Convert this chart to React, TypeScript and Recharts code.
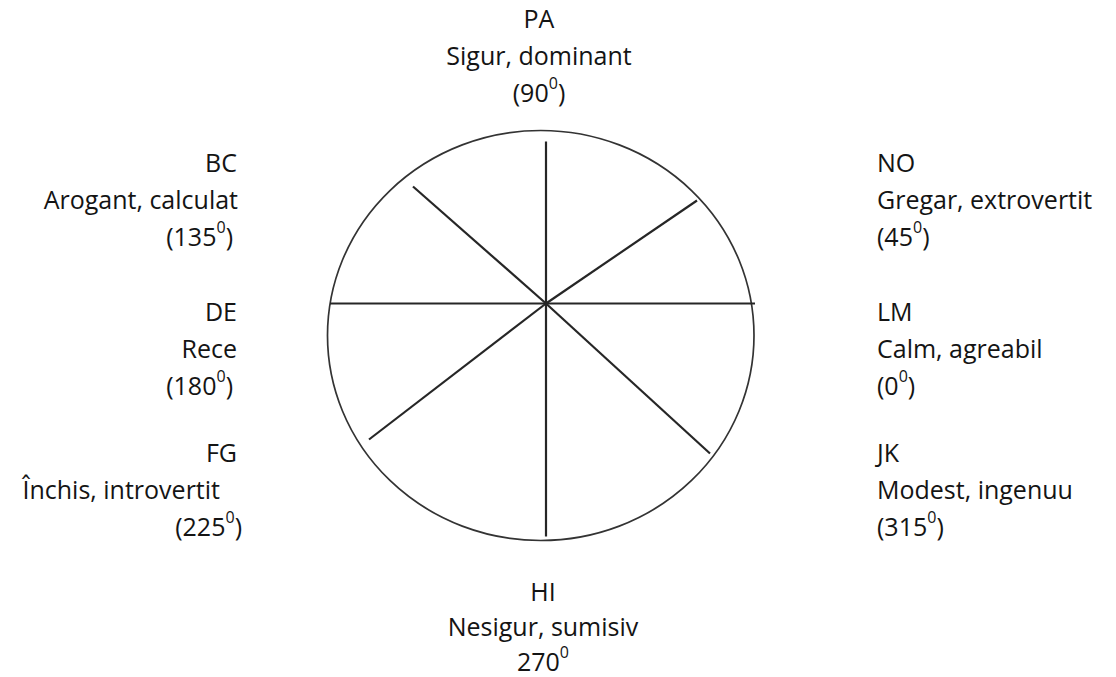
import React from 'react';
import { ComposedChart, XAxis, YAxis, ReferenceArea, ReferenceLine, ReferenceDot } from 'recharts';

// octants of the interpersonal circle, counter-clockwise from 0 degrees
const codes = ['LM', 'NO', 'PA', 'BC', 'DE', 'FG', 'HI', 'JK'];
const traits = [
  'Calm, agreabil',
  'Gregar, extrovertit',
  'Sigur, dominant',
  'Arogant, calculat',
  'Rece',
  'Închis, introvertit',
  'Nesigur, sumisiv',
  'Modest, ingenuu',
];
const degrees = [0, 45, 90, 135, 180, 225, 270, 315];
const degreeInBrackets = [true, true, true, true, true, true, false, true];

// spoke tips as drawn (hub = 0,0, y up)
const spokeTipX = [209, 151, 0, -133, -216, -177, 0, 164];
const spokeTipY = [0, 103, 162, 117, 0, -136, -233, -150];

// outline of the (slightly squashed) circle, same units
const ringX = [-218.5, 208];
const ringY = [-237, 173];

const W = 1116;
const H = 677;
const HUB_X = 546;
const HUB_Y = 303.5;
const LINE = 37;
const INK = '#141414';

const labelPos: Record<string, { x: number; y: number; anchor: 'start' | 'middle' | 'end'; shift?: number[]; gap?: number }> = {
  PA: { x: -7, y: 285.5, anchor: 'middle' },
  NO: { x: 331, y: 141.5, anchor: 'start' },
  LM: { x: 331, y: -7.5, anchor: 'start' },
  JK: { x: 331, y: -148.5, anchor: 'start' },
  HI: { x: -3, y: -287.5, anchor: 'middle', gap: 35 },
  BC: { x: -309, y: 141.5, anchor: 'end', shift: [0, 1, -4] },
  DE: { x: -309, y: -7.5, anchor: 'end', shift: [0, 0, -4] },
  FG: { x: -309, y: -148.5, anchor: 'end', shift: [0, -17, 5] },
};

function Ring(props: any) {
  const { x, y, width, height } = props;
  return (
    <ellipse
      cx={x + width / 2}
      cy={y + height / 2}
      rx={width / 2}
      ry={height / 2}
      fill="none"
      stroke="#333"
      strokeWidth={1.7}
    />
  );
}

function makeLabel(i: number) {
  const pos = labelPos[codes[i]];
  const shift = pos.shift ?? [0, 0, 0];
  const gap = pos.gap ?? LINE;
  return (props: any) => {
    const { cx, cy } = props;
    const common = {
      textAnchor: pos.anchor,
      dominantBaseline: 'central' as const,
      fontFamily: '"Open Sans", sans-serif',
      fontSize: 25,
      fill: INK,
    };
    return (
      <g>
        <text x={cx + shift[0]} y={cy} {...common}>
          {codes[i]}
        </text>
        <text x={cx + shift[1]} y={cy + gap} {...common}>
          {traits[i]}
        </text>
        <text x={cx + shift[2]} y={cy + gap * 2} {...common}>
          <tspan>{(degreeInBrackets[i] ? '(' : '') + degrees[i]}</tspan>
          <tspan fontSize={16} dy={-9}>
            0
          </tspan>
          {degreeInBrackets[i] && <tspan dy={9}>)</tspan>}
        </text>
      </g>
    );
  };
}

export default function App() {
  return (
    <div style={{ position: 'absolute', left: 0, top: 0, background: '#fff' }}>
      <ComposedChart width={W} height={H} data={[]} margin={{ top: 0, right: 0, bottom: 0, left: 0 }}>
        <XAxis type="number" dataKey="x" domain={[-HUB_X, W - HUB_X]} allowDataOverflow hide />
        <YAxis type="number" dataKey="y" domain={[-(H - HUB_Y), HUB_Y]} allowDataOverflow hide />
        <ReferenceArea
          x1={ringX[0]}
          x2={ringX[1]}
          y1={ringY[0]}
          y2={ringY[1]}
          ifOverflow="visible"
          shape={Ring}
        />
        {codes.map((c, i) => (
          <ReferenceLine
            key={'spoke-' + c}
            segment={[
              { x: 0, y: 0 },
              { x: spokeTipX[i], y: spokeTipY[i] },
            ]}
            ifOverflow="visible"
            stroke="#262626"
            strokeWidth={2.2}
          />
        ))}
        {codes.map((c, i) => (
          <ReferenceDot
            key={'label-' + c}
            x={labelPos[c].x}
            y={labelPos[c].y}
            r={0}
            ifOverflow="visible"
            shape={makeLabel(i)}
          />
        ))}
      </ComposedChart>
    </div>
  );
}
